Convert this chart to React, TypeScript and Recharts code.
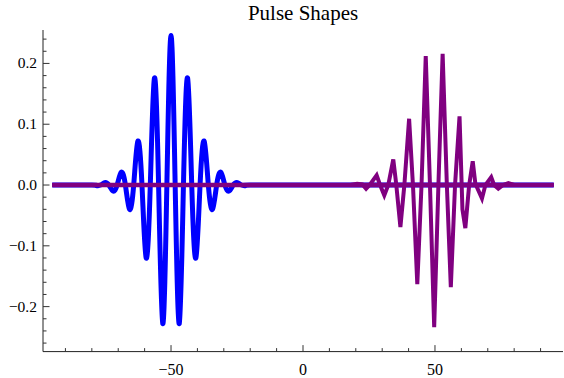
import { LineChart, Line, XAxis, YAxis } from "recharts";

// blue pulse: smooth, centred on -50 (extrema and zero crossings)
const blueX = [
  -95, -80, -78.27, -76.7, -75.13, -73.56, -71.99, -70.42, -68.85, -67.28, -65.71, -64.14,
  -62.57, -61.0, -59.42, -57.85, -56.28, -54.71, -53.14, -51.57, -50, -48.43, -46.86,
  -45.29, -43.72, -42.15, -40.58, -39.0, -37.43, -35.86, -34.29, -32.72, -31.15, -29.58,
  -28.01, -26.44, -24.87, -23.3, -21.73, -20, 0, 20, 40, 60, 80, 95,
];
const blueY = [
  0, 0, -0.001, 0, 0.004, 0, -0.01, 0, 0.021, 0, -0.04, 0,
  0.072, 0, -0.12, 0, 0.176, 0, -0.228, 0, 0.246, 0, -0.228,
  0, 0.176, 0, -0.12, 0, 0.072, 0, -0.04, 0, 0.021, 0,
  -0.01, 0, 0.004, 0, -0.001, 0, 0, 0, 0, 0, 0, 0,
];

// purple pulse: sampled, jagged, centred near +50
const purpleX = [
  -95, 18, 20.5, 22.5, 23.9, 25.4, 27.9, 29.2, 30.8, 32.3, 34.2, 35.3, 36.9, 38.4, 40.2,
  41.7, 43.3, 44.9, 46.5, 48.1, 49.7, 51.3, 52.9, 54.5, 56.0, 57.6, 59.3, 60.4, 61.5,
  62.9, 64.3, 65.3, 67.8, 69.1, 71.3, 72.4, 74.0, 75.8, 77.8, 80, 95,
];
const purpleY = [
  0, 0, 0.002, 0.001, -0.006, 0.001, 0.016, 0, -0.017, 0, 0.042, 0.002, -0.069, 0, 0.109,
  -0.004, -0.163, 0, 0.212, 0, -0.234, 0, 0.216, 0, -0.168, 0, 0.113, -0.04, -0.071,
  -0.002, 0.039, 0.002, -0.022, 0, 0.013, 0, -0.006, 0, 0.003, 0, 0,
];

// flat purple baseline drawn over everything
const baseX = [-95, 95];
const baseY = [0, 0];

const xTicks = [-90, -80, -70, -60, -50, -40, -30, -20, -10, 0, 10, 20, 30, 40, 50, 60, 70, 80, 90];
const xMajor = [-50, 0, 50];
const yTicks = [
  -0.26, -0.24, -0.22, -0.2, -0.18, -0.16, -0.14, -0.12, -0.1, -0.08, -0.06, -0.04, -0.02,
  0, 0.02, 0.04, 0.06, 0.08, 0.1, 0.12, 0.14, 0.16, 0.18, 0.2, 0.22, 0.24,
];

const X_DOMAIN = [-98.5, 98.5];
const Y_DOMAIN = [-0.274, 0.255];
const FONT = "Liberation Serif";
const TICK = "#333";

const blueData = blueX.map((x, i) => ({ x, y: blueY[i] }));
const purpleData = purpleX.map((x, i) => ({ x, y: purpleY[i] }));
const baseData = baseX.map((x, i) => ({ x, y: baseY[i] }));

const isMajorY = (v: number) => Math.abs(v * 10 - Math.round(v * 10)) < 1e-9;
const fmtX = (v: number) => (v < 0 ? "\u2212" + Math.abs(v) : String(v));
const fmtY = (v: number) => (Math.abs(v) < 1e-9 ? "0.0" : (v < 0 ? "\u2212" : "") + Math.abs(v).toFixed(1));

function BottomTick(props: any) {
  const { x, y, payload } = props;
  const major = xMajor.includes(payload.value);
  return (
    <g style={{ fontFamily: FONT }}>
      <line x1={x} y1={y} x2={x} y2={y - (major ? 6.5 : 3.5)} stroke={TICK} />
      {major && (
        <text
          x={x}
          y={y + 23}
          textAnchor="middle"
          fontFamily={FONT}
          fontSize={16}
          style={{ fontFamily: FONT, fontSize: 16 }}
          fill="#000"
        >
          {fmtX(payload.value)}
        </text>
      )}
    </g>
  );
}

function TopTick(props: any) {
  const { x, y, payload } = props;
  const major = xMajor.includes(payload.value);
  return <line x1={x} y1={y} x2={x} y2={y + (major ? 6.5 : 3.5)} stroke={TICK} />;
}

function LeftTick(props: any) {
  const { x, y, payload } = props;
  const major = isMajorY(payload.value);
  return (
    <g style={{ fontFamily: FONT }}>
      <line x1={x} y1={y} x2={x + (major ? 6.5 : 3.5)} y2={y} stroke={TICK} />
      {major && (
        <text
          x={x - 6}
          y={y + 5}
          textAnchor="end"
          fontFamily={FONT}
          fontSize={15.5}
          style={{ fontFamily: FONT, fontSize: 15.5 }}
          fill="#000"
        >
          {fmtY(payload.value)}
        </text>
      )}
    </g>
  );
}

function RightTick(props: any) {
  const { x, y, payload } = props;
  const major = isMajorY(payload.value);
  return <line x1={x} y1={y} x2={x - (major ? 6.5 : 3.5)} y2={y} stroke={TICK} />;
}

export default function App() {
  return (
    <div style={{ position: "absolute", left: 0, top: 0, width: 564, height: 378, background: "#fff", fontFamily: FONT }}>
      <div style={{ position: "absolute", left: 0, top: 0 }}>
        <LineChart width={564} height={378} margin={{ top: 30, right: 1, bottom: 0, left: 0 }} style={{ fontFamily: FONT }}>
          <XAxis
            dataKey="x"
            type="number"
            domain={X_DOMAIN}
            allowDataOverflow
            ticks={xTicks}
            interval={0}
            height={26.4}
            tickSize={0}
            tickMargin={0}
            tickLine={false}
            axisLine={{ stroke: "#222" }}
            tick={<BottomTick />}
          />
          <XAxis
            xAxisId="top"
            orientation="top"
            type="number"
            domain={X_DOMAIN}
            allowDataOverflow
            ticks={xTicks}
            interval={0}
            height={0}
            tickSize={0}
            tickMargin={0}
            tickLine={false}
            axisLine={{ stroke: "#222" }}
            tick={<TopTick />}
          />
          <YAxis
            type="number"
            domain={Y_DOMAIN}
            allowDataOverflow
            ticks={yTicks}
            interval={0}
            width={43}
            tickSize={0}
            tickMargin={0}
            tickLine={false}
            axisLine={{ stroke: "#222" }}
            tick={<LeftTick />}
          />
          <YAxis
            yAxisId="right"
            orientation="right"
            type="number"
            domain={Y_DOMAIN}
            allowDataOverflow
            ticks={yTicks}
            interval={0}
            width={0}
            tickSize={0}
            tickMargin={0}
            tickLine={false}
            axisLine={{ stroke: "#222" }}
            tick={<RightTick />}
          />
          <Line
            data={blueData}
            dataKey="y"
            type="natural"
            stroke="#0000ff"
            strokeWidth={5}
            strokeLinejoin="round"
            dot={false}
            activeDot={false}
            isAnimationActive={false}
          />
          <Line
            data={purpleData}
            dataKey="y"
            type="linear"
            stroke="#800080"
            strokeWidth={4}
            dot={false}
            activeDot={false}
            isAnimationActive={false}
          />
          <Line
            data={baseData}
            dataKey="y"
            type="linear"
            stroke="#800080"
            strokeWidth={4.5}
            dot={false}
            activeDot={false}
            isAnimationActive={false}
          />
        </LineChart>
      </div>
      <svg width={564} height={30} style={{ position: "absolute", left: 0, top: 0 }}>
        <text x={303} y={20} textAnchor="middle" style={{ fontFamily: FONT, fontSize: 21 }} fill="#000">
          Pulse Shapes
        </text>
      </svg>
    </div>
  );
}
